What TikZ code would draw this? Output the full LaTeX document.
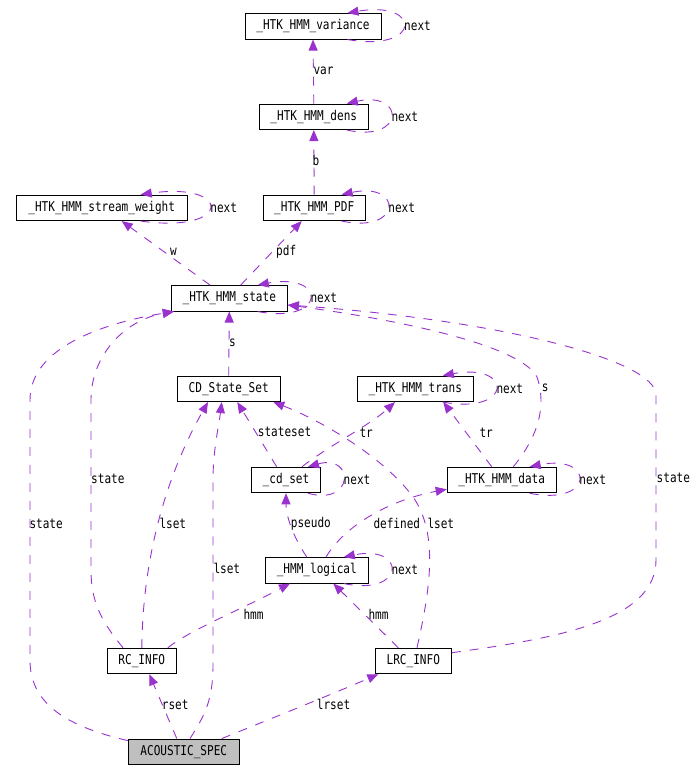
\documentclass[tikz,border=0pt]{standalone}
\usepackage{fontspec}
\newfontfamily\dmono[FakeStretch=0.82]{DejaVu Sans Mono}
\usetikzlibrary{arrows.meta}
\definecolor{edgec}{HTML}{9A32CD}
\definecolor{accentgray}{HTML}{BFBFBF}
\newcommand\dloop[3]{%
  \pgfmathsetmacro\dcc{(22+#2)/0.75}%
  \draw[edge] ([xshift=-#2pt]#1.south east) .. controls +(\dcc,13) and +(\dcc,-13) .. ([xshift=-#2pt]#1.north east);
  \node[lbl] (#1-next) at ([xshift=22.5pt]#1.east) {#3};
}
\begin{document}
\begin{tikzpicture}[x=1pt,y=-1pt,
  box/.style={draw=black,line width=1pt,minimum height=25.5pt,inner sep=0pt,
    font=\dmono\fontsize{13.5}{15}\selectfont,anchor=center},
  edge/.style={draw=edgec,line width=0.9pt,dash pattern=on 9pt off 9pt,
    -{Triangle[length=11pt,width=9pt]}},
  lbl/.style={font=\dmono\fontsize{13.5}{15}\selectfont,inner sep=0pt,anchor=west}]
\useasboundingbox (0,0) rectangle (696,769);

% nodes
\node[box,minimum width=136pt] (var) at (313,26.3) {\_HTK\_HMM\_variance};
\node[box,minimum width=109pt] (dens) at (313.8,116.8) {\_HTK\_HMM\_dens};
\node[box,minimum width=171pt] (sw) at (101.7,207.8) {\_HTK\_HMM\_stream\_weight};
\node[box,minimum width=102pt] (pdf) at (314.2,207.8) {\_HTK\_HMM\_PDF};
\node[box,minimum width=116pt] (state) at (229.3,298.3) {\_HTK\_HMM\_state};
\node[box,minimum width=103pt] (cdss) at (228.7,388.8) {CD\_State\_Set};
\node[box,minimum width=116pt] (trans) at (415.3,388.8) {\_HTK\_HMM\_trans};
\node[box,minimum width=69pt] (cdset) at (286,480) {\_cd\_set};
\node[box,minimum width=109pt] (data) at (501.7,480) {\_HTK\_HMM\_data};
\node[box,minimum width=103pt] (logical) at (316.8,570.3) {\_HMM\_logical};
\node[box,minimum width=69pt] (rc) at (141.8,661) {RC\_INFO};
\node[box,minimum width=76pt] (lrc) at (413.3,661) {LRC\_INFO};
\node[box,minimum width=111pt,fill=accentgray] (acs) at (183.8,751.8) {ACOUSTIC\_SPEC};

% self loops
\dloop{var}{34}{next}
\dloop{dens}{22}{next}
\dloop{pdf}{24}{next}
\dloop{sw}{47}{next}
\dloop{state}{30}{next}
\dloop{trans}{31}{next}
\dloop{cdset}{13}{next}
\dloop{data}{27}{next}
\dloop{logical}{25}{next}

% straight-ish edges
\draw[edge] (dens.north) -- (var.south);
\node[lbl] (l-var) at (313.3,70.7) {var};
\draw[edge] (pdf.north) -- (dens.south);
\node[lbl] (l-b) at (312.5,160) {b};
\draw[edge] ([xshift=-19.3pt]state.north) -- ([xshift=20pt]sw.south);
\node[lbl] (l-w) at (170,251.7) {w};
\draw[edge] ([xshift=11.4pt]state.north) -- ([xshift=-12.5pt]pdf.south);
\node[lbl] (l-pdf) at (276,251.7) {pdf};
\draw[edge] (cdss.north) -- (state.south);
\node[lbl] (l-s) at (229,343.3) {s};

% data -> state
\draw[edge] ([xshift=11.6pt]data.north) .. controls (535,440) and (548,410) .. (537,377)
  .. controls (520,345) and (400,320) .. ([yshift=-6.7pt]state.east);
\node[lbl] (l-s2) at (541.7,388.3) {s};

% LRC -> state
\draw[edge] ([yshift=8.3pt]lrc.east) .. controls (560,638) and (656,620) .. (656,560)
  -- (656,395) .. controls (656,360) and (500,320) .. ([yshift=-6.7pt]state.east);
\node[lbl] (l-state-r) at (656.5,478.3) {state};

% cd_set edges
\draw[edge] ([xshift=-9.3pt]cdset.north) -- ([xshift=8.6pt]cdss.south);
\node[lbl] (l-stateset) at (257.7,432.3) {stateset};
\draw[edge] ([xshift=16pt]cdset.north) .. controls (330,445) and (370,425) .. ([xshift=-20.3pt]trans.south);
\node[lbl] (l-tr1) at (359.3,432.3) {tr};

% data -> trans
\draw[edge] ([xshift=-10pt]data.north) -- ([xshift=28pt]trans.south);
\node[lbl] (l-tr2) at (479.3,432.3) {tr};

% logical edges
\draw[edge] ([xshift=-10pt]logical.north) .. controls (292,535) and (286,515) .. (cdset.south);
\node[lbl] (l-pseudo) at (290.7,523.3) {pseudo};
\draw[edge] ([xshift=9.2pt]logical.north) .. controls (345,525) and (390,500) .. ([yshift=-9.3pt]data.west);
\node[lbl] (l-defined) at (373.3,523.3) {defined};

% LRC edges
\draw[edge] ([xshift=3.7pt]lrc.north) .. controls (430,590) and (440,530) .. (410,493)
  .. controls (380,455) and (320,420) .. ([xshift=44.6pt]cdss.south);
\node[lbl] (l-lset-lrc) at (427.3,523.3) {lset};
\draw[edge] ([xshift=-15pt]lrc.north) -- ([xshift=16.5pt]logical.south);
\node[lbl] (l-hmm-lrc) at (368.3,614.3) {hmm};

% RC edges
\draw[edge] ([xshift=-18.8pt]rc.north) .. controls (100,620) and (91,600) .. (91,570)
  -- (91,400) .. controls (91,355) and (125,320) .. ([xshift=3pt]state.south west);
\node[lbl] (l-state-rc) at (91,479) {state};
\draw[edge] (rc.north) .. controls (143,540) and (175,460) .. ([xshift=-20.7pt]cdss.south);
\node[lbl] (l-lset-rc) at (159.3,523.3) {lset};
\draw[edge] ([xshift=26pt]rc.north) .. controls (190,630) and (240,610) .. ([xshift=-26.8pt]logical.south);
\node[lbl] (l-hmm-rc) at (243.3,614.3) {hmm};

% ACOUSTIC_SPEC edges
\draw[edge] ([xshift=-7pt]acs.north) -- ([xshift=7.5pt]rc.south);
\node[lbl] (l-rset) at (161.7,705) {rset};
\draw[edge] ([xshift=6.2pt]acs.north) .. controls (205,715) and (213,700) .. (213,665)
  -- (213,480) .. controls (213,450) and (219,425) .. ([xshift=-7pt]cdss.south);
\node[lbl] (l-lset-acs) at (213.3,568.3) {lset};
\draw[edge] ([xshift=38pt]acs.north) .. controls (280,715) and (330,695) .. ([xshift=-35pt]lrc.south);
\node[lbl] (l-lrset) at (316.7,704.3) {lrset};
\draw[edge] ([yshift=-2pt]acs.north west) .. controls (60,725) and (30,700) .. (30,660)
  -- (30,400) .. controls (30,345) and (110,322) .. ([xshift=3pt]state.south west);
\node[lbl] (l-state-acs) at (29.3,524) {state};
\end{tikzpicture}
\end{document}
